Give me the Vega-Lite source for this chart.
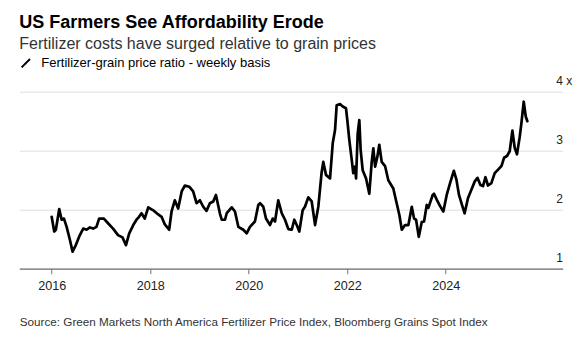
{
  "$schema": "https://vega.github.io/schema/vega-lite/v6.json",
  "width": 543.4,
  "height": 177,
  "autosize": {"type": "none"},
  "padding": {"left": 19.3, "top": 91.7, "right": 23.3, "bottom": 76.3},
  "background": "white",
  "config": {"view": {"stroke": null}},
  "title": {
    "text": "US Farmers See Affordability Erode",
    "subtitle": "Fertilizer costs have surged relative to grain prices",
    "anchor": "start",
    "frame": "group",
    "font": "Liberation Sans",
    "fontSize": 18,
    "fontWeight": "bold",
    "color": "#000000",
    "subtitleFont": "Liberation Sans",
    "subtitleFontSize": 16,
    "subtitleColor": "#333333",
    "subtitlePadding": 4,
    "offset": 5
  },
  "data": {
    "values": [
      {"date": "2016-01-01", "ratio": 1.88},
      {"date": "2016-01-20", "ratio": 1.63},
      {"date": "2016-02-01", "ratio": 1.66},
      {"date": "2016-02-26", "ratio": 2.01},
      {"date": "2016-03-15", "ratio": 1.83},
      {"date": "2016-04-01", "ratio": 1.85},
      {"date": "2016-04-21", "ratio": 1.71},
      {"date": "2016-05-15", "ratio": 1.49},
      {"date": "2016-06-04", "ratio": 1.29},
      {"date": "2016-06-28", "ratio": 1.40},
      {"date": "2016-07-28", "ratio": 1.57},
      {"date": "2016-08-22", "ratio": 1.68},
      {"date": "2016-09-16", "ratio": 1.66},
      {"date": "2016-10-10", "ratio": 1.70},
      {"date": "2016-11-04", "ratio": 1.68},
      {"date": "2016-11-28", "ratio": 1.71},
      {"date": "2016-12-18", "ratio": 1.85},
      {"date": "2017-01-22", "ratio": 1.85},
      {"date": "2017-02-22", "ratio": 1.77},
      {"date": "2017-03-31", "ratio": 1.68},
      {"date": "2017-05-07", "ratio": 1.57},
      {"date": "2017-06-09", "ratio": 1.53},
      {"date": "2017-07-05", "ratio": 1.40},
      {"date": "2017-07-29", "ratio": 1.60},
      {"date": "2017-08-28", "ratio": 1.74},
      {"date": "2017-09-21", "ratio": 1.83},
      {"date": "2017-10-10", "ratio": 1.88},
      {"date": "2017-10-28", "ratio": 1.94},
      {"date": "2017-11-21", "ratio": 1.85},
      {"date": "2017-12-17", "ratio": 2.04},
      {"date": "2018-01-23", "ratio": 1.99},
      {"date": "2018-03-01", "ratio": 1.92},
      {"date": "2018-03-26", "ratio": 1.88},
      {"date": "2018-04-19", "ratio": 1.75},
      {"date": "2018-05-21", "ratio": 1.66},
      {"date": "2018-06-08", "ratio": 1.97},
      {"date": "2018-07-02", "ratio": 2.16},
      {"date": "2018-07-27", "ratio": 2.02},
      {"date": "2018-08-22", "ratio": 2.31},
      {"date": "2018-09-15", "ratio": 2.41},
      {"date": "2018-10-17", "ratio": 2.39},
      {"date": "2018-11-15", "ratio": 2.31},
      {"date": "2018-12-10", "ratio": 2.11},
      {"date": "2019-01-04", "ratio": 2.16},
      {"date": "2019-01-29", "ratio": 2.05},
      {"date": "2019-02-22", "ratio": 1.98},
      {"date": "2019-03-19", "ratio": 2.11},
      {"date": "2019-04-13", "ratio": 2.14},
      {"date": "2019-05-03", "ratio": 2.25},
      {"date": "2019-06-02", "ratio": 1.93},
      {"date": "2019-06-15", "ratio": 1.83},
      {"date": "2019-07-09", "ratio": 1.83},
      {"date": "2019-07-22", "ratio": 1.94},
      {"date": "2019-08-28", "ratio": 2.04},
      {"date": "2019-09-21", "ratio": 1.97},
      {"date": "2019-10-16", "ratio": 1.71},
      {"date": "2019-11-22", "ratio": 1.66},
      {"date": "2019-12-17", "ratio": 1.60},
      {"date": "2020-01-10", "ratio": 1.71},
      {"date": "2020-02-16", "ratio": 1.80},
      {"date": "2020-03-12", "ratio": 2.08},
      {"date": "2020-03-25", "ratio": 2.11},
      {"date": "2020-04-18", "ratio": 2.05},
      {"date": "2020-05-08", "ratio": 1.85},
      {"date": "2020-06-07", "ratio": 1.74},
      {"date": "2020-06-27", "ratio": 1.85},
      {"date": "2020-07-14", "ratio": 1.80},
      {"date": "2020-08-07", "ratio": 2.16},
      {"date": "2020-09-02", "ratio": 1.94},
      {"date": "2020-09-26", "ratio": 1.83},
      {"date": "2020-10-21", "ratio": 1.67},
      {"date": "2020-11-15", "ratio": 1.66},
      {"date": "2020-12-04", "ratio": 1.83},
      {"date": "2020-12-22", "ratio": 1.74},
      {"date": "2021-01-10", "ratio": 1.63},
      {"date": "2021-02-04", "ratio": 1.99},
      {"date": "2021-02-21", "ratio": 2.05},
      {"date": "2021-03-18", "ratio": 2.21},
      {"date": "2021-04-12", "ratio": 2.14},
      {"date": "2021-05-07", "ratio": 1.74},
      {"date": "2021-05-31", "ratio": 2.05},
      {"date": "2021-06-25", "ratio": 2.64},
      {"date": "2021-07-07", "ratio": 2.81},
      {"date": "2021-07-27", "ratio": 2.59},
      {"date": "2021-08-26", "ratio": 2.53},
      {"date": "2021-09-15", "ratio": 3.13},
      {"date": "2021-10-02", "ratio": 3.35},
      {"date": "2021-10-14", "ratio": 3.77},
      {"date": "2021-11-08", "ratio": 3.79},
      {"date": "2021-11-28", "ratio": 3.75},
      {"date": "2021-12-22", "ratio": 3.72},
      {"date": "2022-01-01", "ratio": 3.52},
      {"date": "2022-01-16", "ratio": 3.18},
      {"date": "2022-02-03", "ratio": 2.84},
      {"date": "2022-02-14", "ratio": 2.62},
      {"date": "2022-02-27", "ratio": 2.73},
      {"date": "2022-03-07", "ratio": 2.53},
      {"date": "2022-03-19", "ratio": 3.29},
      {"date": "2022-03-31", "ratio": 3.52},
      {"date": "2022-04-10", "ratio": 3.01},
      {"date": "2022-04-25", "ratio": 2.67},
      {"date": "2022-05-20", "ratio": 2.53},
      {"date": "2022-06-13", "ratio": 2.27},
      {"date": "2022-07-01", "ratio": 2.81},
      {"date": "2022-07-13", "ratio": 3.04},
      {"date": "2022-07-26", "ratio": 2.73},
      {"date": "2022-08-12", "ratio": 2.90},
      {"date": "2022-08-26", "ratio": 3.10},
      {"date": "2022-09-13", "ratio": 2.81},
      {"date": "2022-10-08", "ratio": 2.74},
      {"date": "2022-11-01", "ratio": 2.50},
      {"date": "2022-12-08", "ratio": 2.36},
      {"date": "2023-01-02", "ratio": 2.11},
      {"date": "2023-01-22", "ratio": 1.91},
      {"date": "2023-02-09", "ratio": 1.66},
      {"date": "2023-03-05", "ratio": 1.74},
      {"date": "2023-03-30", "ratio": 1.74},
      {"date": "2023-04-24", "ratio": 2.05},
      {"date": "2023-05-11", "ratio": 1.85},
      {"date": "2023-05-26", "ratio": 1.83},
      {"date": "2023-06-15", "ratio": 1.54},
      {"date": "2023-07-07", "ratio": 1.79},
      {"date": "2023-07-24", "ratio": 1.80},
      {"date": "2023-08-13", "ratio": 2.08},
      {"date": "2023-08-25", "ratio": 2.03},
      {"date": "2023-09-26", "ratio": 2.25},
      {"date": "2023-10-06", "ratio": 2.27},
      {"date": "2023-10-26", "ratio": 2.17},
      {"date": "2023-11-20", "ratio": 2.06},
      {"date": "2023-12-14", "ratio": 1.97},
      {"date": "2024-01-08", "ratio": 2.25},
      {"date": "2024-02-02", "ratio": 2.45},
      {"date": "2024-03-01", "ratio": 2.66},
      {"date": "2024-03-20", "ratio": 2.51},
      {"date": "2024-04-08", "ratio": 2.25},
      {"date": "2024-05-03", "ratio": 2.06},
      {"date": "2024-05-20", "ratio": 1.94},
      {"date": "2024-06-14", "ratio": 2.20},
      {"date": "2024-07-09", "ratio": 2.34},
      {"date": "2024-08-03", "ratio": 2.48},
      {"date": "2024-08-23", "ratio": 2.54},
      {"date": "2024-09-14", "ratio": 2.42},
      {"date": "2024-10-03", "ratio": 2.40},
      {"date": "2024-10-21", "ratio": 2.55},
      {"date": "2024-11-09", "ratio": 2.41},
      {"date": "2024-12-04", "ratio": 2.45},
      {"date": "2024-12-29", "ratio": 2.62},
      {"date": "2025-01-23", "ratio": 2.68},
      {"date": "2025-02-17", "ratio": 2.74},
      {"date": "2025-03-08", "ratio": 2.88},
      {"date": "2025-03-30", "ratio": 2.91},
      {"date": "2025-04-19", "ratio": 2.99},
      {"date": "2025-05-09", "ratio": 3.34},
      {"date": "2025-05-26", "ratio": 3.05},
      {"date": "2025-06-12", "ratio": 2.94},
      {"date": "2025-07-02", "ratio": 3.23},
      {"date": "2025-07-15", "ratio": 3.47},
      {"date": "2025-08-01", "ratio": 3.83},
      {"date": "2025-08-16", "ratio": 3.58},
      {"date": "2025-08-28", "ratio": 3.50}
    ]
  },
  "mark": {"type": "line", "strokeWidth": 2.7, "strokeJoin": "round", "strokeCap": "round"},
  "encoding": {
    "x": {
      "field": "date",
      "type": "temporal",
      "scale": {"domain": ["2015-05-06", "2026-05-17"]},
      "axis": {
        "values": [{"year": 2016}, {"year": 2018}, {"year": 2020}, {"year": 2022}, {"year": 2024}],
        "format": "%Y",
        "grid": false,
        "labelFont": "Liberation Sans",
        "labelFontSize": 12.6,
        "labelColor": "#222222",
        "labelPadding": 6,
        "domainColor": "#707070",
        "domainWidth": 1.2,
        "tickColor": "#707070",
        "tickSize": 5,
        "title": "Source: Green Markets North America Fertilizer Price Index, Bloomberg Grains Spot Index",
        "titleAnchor": "start",
        "titleAlign": "left",
        "titleX": 0,
        "titleY": 57,
        "titleBaseline": "alphabetic",
        "titleFont": "Liberation Sans",
        "titleFontSize": 11.7,
        "titleFontWeight": "normal",
        "titleColor": "#333333"
      }
    },
    "y": {
      "field": "ratio",
      "type": "quantitative",
      "scale": {"domain": [1, 4]},
      "axis": {
        "orient": "right",
        "values": [1, 2, 3, 4],
        "labelExpr": "datum.value == 4 ? '4 x' : datum.label",
        "labelAlign": "left",
        "labelBaseline": "alphabetic",
        "labelOffset": -7.5,
        "labelPadding": -7,
        "ticks": false,
        "tickSize": 0,
        "domain": false,
        "grid": true,
        "gridColor": "#dedede",
        "labelFont": "Liberation Sans",
        "labelFontSize": 12,
        "labelColor": "#222222",
        "title": null
      }
    },
    "color": {
      "datum": "Fertilizer-grain price ratio - weekly basis",
      "scale": {"range": ["#000000"]},
      "legend": {
        "orient": "none",
        "legendX": 0,
        "legendY": -35,
        "title": null,
        "padding": 0,
        "symbolType": "M-1,1L1,-1",
        "symbolSize": 70,
        "symbolStrokeWidth": 2,
        "labelFont": "Liberation Sans",
        "labelFontSize": 13,
        "labelColor": "#000000",
        "labelOffset": 9,
        "labelLimit": 400
      }
    }
  }
}
